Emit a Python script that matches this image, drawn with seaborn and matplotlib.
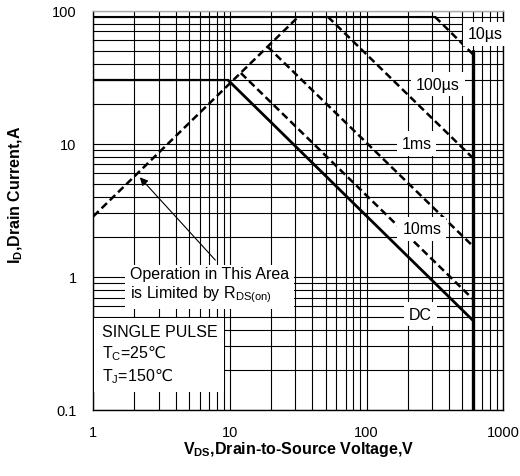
import pandas as pd
import seaborn as sns
import matplotlib.pyplot as plt

# safe operating area curves, end points (V, A)
rds_v = [1, 31.6]
rds_i = [2.85, 90]
idm_v = [1, 316]
idm_i = [90, 90]
id_v = [1, 9.7]
id_i = [30, 30]
dc_v = [9.7, 600]
dc_i = [30, 0.47]
us10_v = [316, 600]
us10_i = [90, 47]
us100_v = [52, 600]
us100_i = [90, 7.8]
ms1_v = [18.8, 600]
ms1_i = [53.7, 1.7]
ms10_v = [12, 600]
ms10_i = [34, 0.68]
vdss_v = [600, 600]
vdss_i = [50, 0.1]

curve_labels = ["10µs", "100µs", "1ms", "10ms", "DC"]
label_v = [733, 333, 232, 253, 248]
label_i = [66.9, 28.1, 10, 2.29, 0.525]

x_ticks = [1, 10, 100, 1000]
x_ticklabels = ["1", "10", "100", "1000"]
y_ticks = [0.1, 1, 10, 100]
y_ticklabels = ["0.1", "1", "10", "100"]

sns.set_theme(style="white")
plt.rcParams['font.family'] = ['Liberation Sans', 'DejaVu Sans']
plt.rcParams['text.color'] = 'black'
plt.rcParams['axes.labelcolor'] = 'black'
plt.rcParams['mathtext.fontset'] = 'custom'
plt.rcParams['mathtext.rm'] = 'Liberation Sans'
plt.rcParams['mathtext.it'] = 'Liberation Sans:italic'
plt.rcParams['mathtext.bf'] = 'Liberation Sans:bold'
plt.rcParams['mathtext.sf'] = 'DejaVu Sans'  # only used for the ℃ sign

fig = plt.figure(figsize=(5.2, 4.77), dpi=100)
ax = fig.add_axes([0.1795, 0.1384, 0.7885, 0.8371])
ax.set_xscale('log')
ax.set_yscale('log')

DASH = (0, (3, 1.6))
curves = [
    (rds_v, rds_i, DASH, 1.8),
    (idm_v, idm_i, '-', 1.5),
    (id_v, id_i, '-', 1.6),
    (dc_v, dc_i, '-', 2.0),
    (us10_v, us10_i, DASH, 1.8),
    (us100_v, us100_i, DASH, 1.8),
    (ms1_v, ms1_i, DASH, 1.8),
    (ms10_v, ms10_i, DASH, 1.8),
    (vdss_v, vdss_i, '-', 2.4),
]
for v, i, ls, lw in curves:
    d = pd.DataFrame({'V': v, 'I': i})
    sns.lineplot(data=d, x='V', y='I', ax=ax, color='black', lw=lw,
                 linestyle=ls, estimator=None, sort=False, zorder=3)

ax.set_xlim(1, 1000)
ax.set_ylim(0.1, 100)
ax.grid(True, which='both', color='black', lw=0.8)
ax.tick_params(which='both', length=0, labelsize=10.5, colors='black')
ax.set_xticks(x_ticks, x_ticklabels)
ax.set_yticks(y_ticks, y_ticklabels)
ax.minorticks_on()
ax.tick_params(axis='x', pad=11)
ax.tick_params(axis='y', pad=12)
for s in ax.spines.values():
    s.set_color('black')
    s.set_linewidth(1)
ax.spines['top'].set_color('#aaaaaa')

box = dict(facecolor='white', edgecolor='none', boxstyle='square,pad=0.3')
for lab, v, i in zip(curve_labels, label_v, label_i):
    ax.text(v, i, lab, ha='center', va='center', fontsize=11.5, bbox=box, zorder=5)

# R_DS(on) note with arrow pointing at the dashed limit line
ax.annotate('', xy=(2.12, 5.8), xytext=(8.06, 1.29),
            arrowprops=dict(arrowstyle='-|>', color='black', lw=0.8, mutation_scale=12),
            zorder=4)
ax.text(1.86, 0.866, 'Operation in This Area\nis Limited by R$_\\mathregular{DS(on)}$',
        ha='left', va='center', fontsize=11.5, linespacing=1.2,
        bbox=dict(facecolor='white', edgecolor='none', boxstyle='square,pad=0.3'), zorder=5)
ax.text(1.15, 0.262, 'SINGLE PULSE\nT$_\\mathregular{C}$=25$\\mathsf{℃}$\nT$_\\mathregular{J}$=150$\\mathsf{℃}$',
        ha='left', va='center', fontsize=11.5, linespacing=1.3,
        bbox=dict(facecolor='white', edgecolor='none', boxstyle='square,pad=0.45'), zorder=5)

ax.set_xlabel('V$_\\mathregular{DS}$,Drain-to-Source Voltage,V', fontsize=11.5, fontweight='bold')
ax.set_ylabel('I$_\\mathregular{D}$,Drain Current,A', fontsize=11.5, fontweight='bold')
ax.xaxis.set_label_coords(0.502, -0.073)
ax.yaxis.set_label_coords(-0.167, 0.541)

fig.savefig('out.png', dpi=100)
